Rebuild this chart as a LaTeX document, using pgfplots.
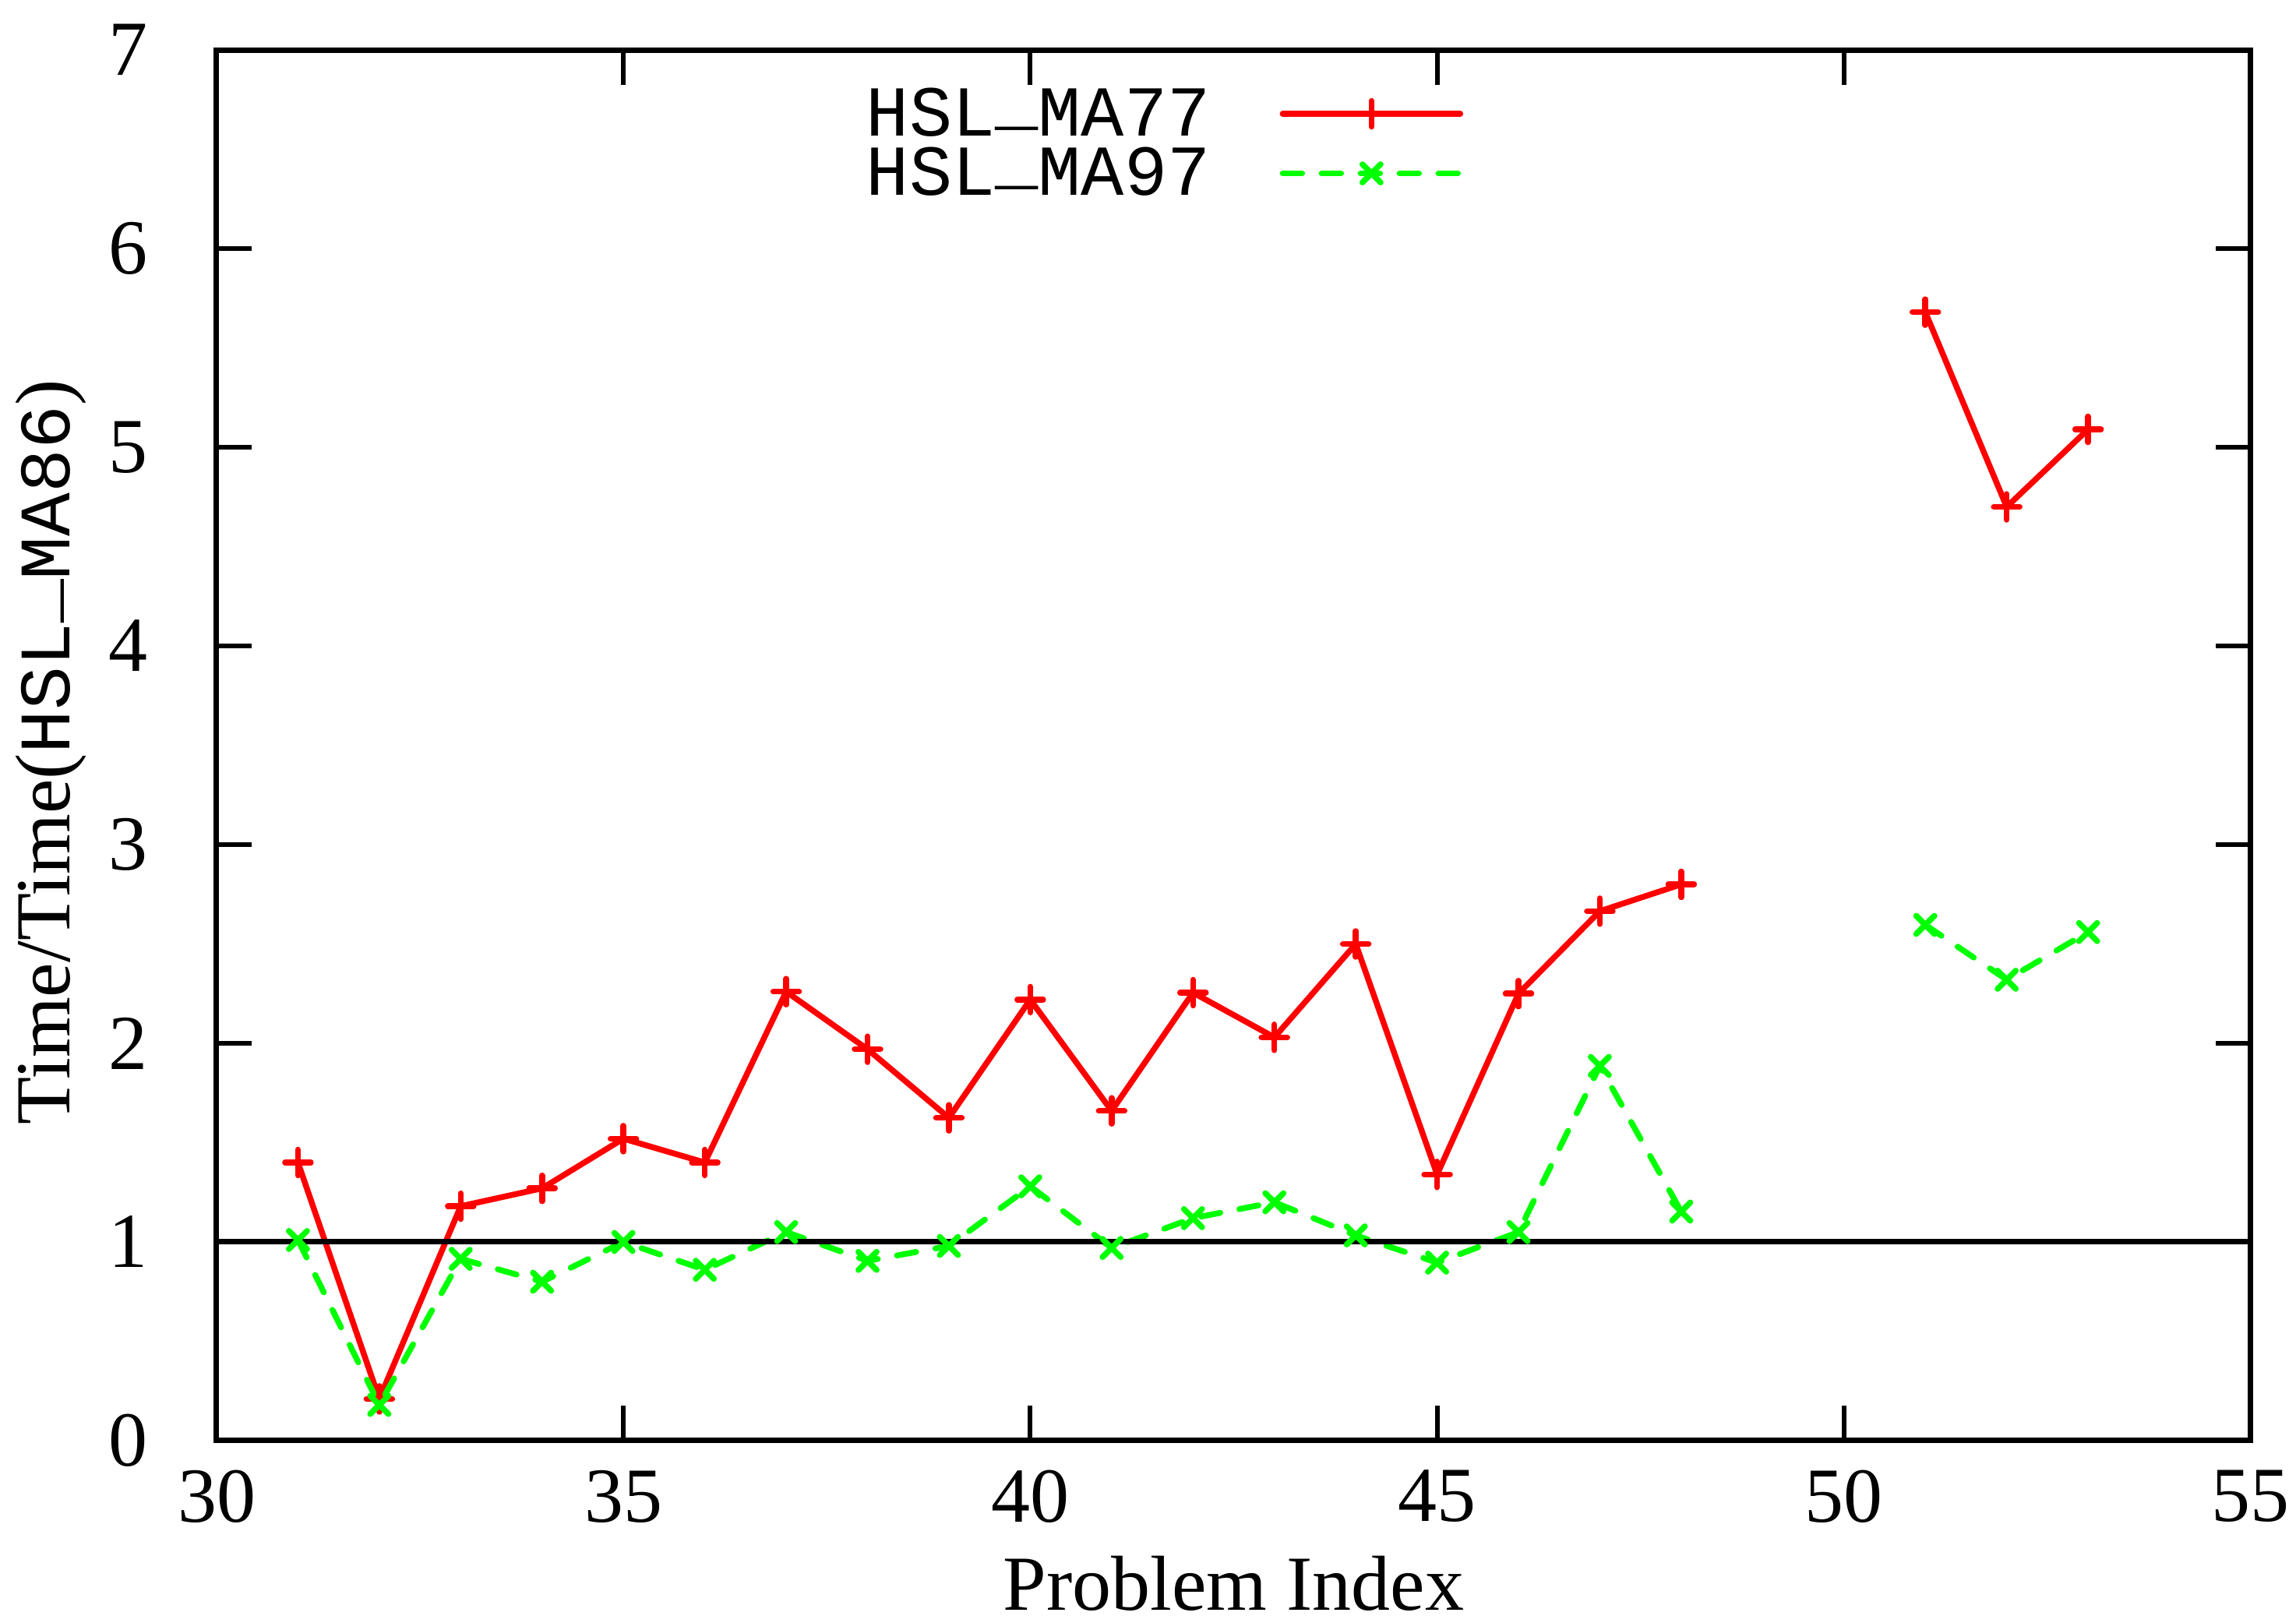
\documentclass[border=0pt]{standalone}
\usepackage{fontspec}
\setmainfont{Liberation Serif}
\newfontfamily\monofont{Liberation Mono}
\usepackage{pgfplots}
\pgfplotsset{compat=1.18}
\definecolor{gpred}{RGB}{255,0,0}
\definecolor{gpgreen}{RGB}{0,255,0}
\newcommand{\us}{\raisebox{0.18em}{\_}}
\begin{document}
\begin{tikzpicture}
\begin{axis}[
  at={(0,0)}, anchor=south west,
  scale only axis, width=261.1pt, height=178.5pt,
  xmin=30, xmax=55, ymin=0, ymax=7,
  xtick={30,35,...,55}, ytick={0,1,...,7},
  tick align=inside, major tick length=4.5pt,
  every tick/.style={black, line width=0.6pt},
  axis line style={line width=0.7pt},
  /pgf/number format/assume math mode=true,
  tick label style={font=\fontsize{10}{12}\selectfont, inner sep=0pt},
  xticklabel style={anchor=north, yshift=-3.6pt},
  yticklabel style={anchor=east, xshift=-8.6pt},
  xlabel={Problem Index},
  every axis x label/.style={at={(axis description cs:0.5,-0.0818)}, anchor=north, inner sep=0pt, font=\fontsize{10}{12}\selectfont},
  ylabel={Time/Time({\monofont\fontsize{9.3}{11}\selectfont HSL\us MA86})},
  every axis y label/.style={at={(axis description cs:-0.0995,0.495)}, rotate=90, anchor=north, inner sep=0pt, font=\fontsize{10}{12}\selectfont},
  unbounded coords=jump,
  legend style={draw=none, fill=none, inner sep=0pt, outer sep=0pt,
    at={(axis description cs:0.3194,1)}, anchor=north west, yshift=-5.4pt,
    row sep=2.05pt, column sep=8.9pt,
    nodes={inner sep=0pt, text height=5.6pt, text depth=0pt, font=\monofont\fontsize{9.2}{11}\selectfont}},
  legend plot pos=right,
  legend image code/.code={\draw[mark repeat=2, mark phase=2, #1] plot coordinates {(0pt,0pt) (11.4pt,0pt) (22.8pt,0pt)};},
]
\addplot[color=gpred, line width=0.75pt, line cap=round, line join=round, mark=+, mark size=1.65pt] coordinates {
(31,1.40) (32,0.21) (33,1.18) (34,1.27) (35,1.52) (36,1.40) (37,2.26) (38,1.97)
(39,1.625) (40,2.22) (41,1.66) (42,2.255) (43,2.03) (44,2.50) (45,1.34) (46,2.25)
(47,2.665) (48,2.80) (49,nan) (51,5.68) (52,4.70) (53,5.09)
};
\addlegendentry{HSL\us MA77}
\addplot[color=gpgreen, line width=0.75pt, line cap=round, line join=round, dash pattern=on 2.5pt off 2.5pt, mark=x, mark size=1.65pt, mark options={solid}] coordinates {
(31,1.01) (32,0.18) (33,0.915) (34,0.80) (35,1.00) (36,0.86) (37,1.05) (38,0.905)
(39,0.98) (40,1.28) (41,0.97) (42,1.12) (43,1.20) (44,1.033) (45,0.896) (46,1.05)
(47,1.886) (48,1.153) (49,nan) (51,2.596) (52,2.32) (53,2.56)
};
\addlegendentry{HSL\us MA97}
\addplot[black, line width=0.7pt, forget plot] coordinates {(30,1) (55,1)};
\end{axis}
\pgfresetboundingbox
\path[use as bounding box] (-27.8pt,-23.4pt) rectangle (266.9pt,184.9pt);
\end{tikzpicture}
\end{document}
